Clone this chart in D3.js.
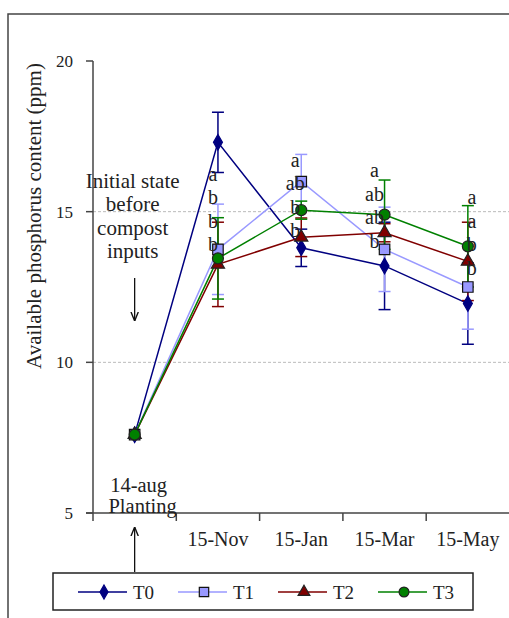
<!DOCTYPE html>
<html>
<head>
<meta charset="utf-8">
<script src="https://cdn.jsdelivr.net/npm/d3@7"></script>
<style>
  body { margin: 0; background: white; }
  text { font-family: "Liberation Serif", serif; }
</style>
</head>
<body>
<div id="container"></div>
<script>
/* CONSTANTS AND GLOBALS */
const width = 509;
const height = 618;

/* DATA */
const dates = ["14-aug", "15-Nov", "15-Jan", "15-Mar", "15-May"];
const seriesNames = ["T0", "T1", "T2", "T3"];
const t0 = [7.6, 17.3, 13.8, 13.2, 11.95];
const t1 = [7.6, 13.75, 16.0, 13.75, 12.5];
const t2 = [7.6, 13.25, 14.15, 14.3, 13.35];
const t3 = [7.6, 13.45, 15.05, 14.9, 13.85];
const t0Err = [0, 1.0, 0.62, 1.45, 1.35];
const t1Err = [0, 1.5, 0.9, 1.4, 1.4];
const t2Err = [0, 1.4, 0.64, 0.3, 1.3];
const t3Err = [0, 1.35, 0.3, 1.15, 1.35];
// significance letters per date, top to bottom
const letters = [
  [],
  ["a", "b", "b", "b"],
  ["a", "ab", "b", "b"],
  ["a", "ab", "ab", "b"],
  ["a", "a", "b", "b"]
];
const yTicks = [5, 10, 15, 20];
const gridValues = [10, 15];

/* ANNOTATION LAYOUT */
const letterTop = [null, 16.2, 16.65, 16.3, 15.42]; // value of top letter
const letterDx = [0, -5, -6, -10, 4];

const series = [
  { name: "T0", values: t0, err: t0Err, color: "#000080", fill: "#000080", stroke: "#000080", symbol: d3.symbolDiamond, size: 70 },
  { name: "T1", values: t1, err: t1Err, color: "#9999ff", fill: "#9999ff", stroke: "#111", symbol: d3.symbolSquare, size: 110 },
  { name: "T2", values: t2, err: t2Err, color: "#800000", fill: "#800000", stroke: "#222", symbol: d3.symbolTriangle, size: 75 },
  { name: "T3", values: t3, err: t3Err, color: "#008000", fill: "#008000", stroke: "#222", symbol: d3.symbolCircle, size: 95 }
];

const svg = d3.select("#container")
  .append("svg")
  .attr("width", width)
  .attr("height", height)
  .style("background-color", "white");

// outer frame (cut by the window on right/bottom)
svg.append("rect")
  .attr("x", 8).attr("y", 14)
  .attr("width", 540).attr("height", 640)
  .attr("fill", "none").attr("stroke", "#444").attr("stroke-width", 1.5);

/* SCALES */
const xScale = d3.scaleBand()
  .domain(dates)
  .range([93, 509.5])
  .padding(0);

const yScale = d3.scaleLinear()
  .domain([5, 20])
  .range([513, 61]);

const cx = d => xScale(d) + xScale.bandwidth() / 2;

/* GRID */
svg.selectAll(".grid")
  .data(gridValues)
  .join("line")
  .attr("class", "grid")
  .attr("x1", 93).attr("x2", width)
  .attr("y1", d => yScale(d)).attr("y2", d => yScale(d))
  .attr("stroke", "#bbb")
  .attr("stroke-dasharray", "3,2");

/* AXES */
const axisColor = "#444";
svg.append("line")
  .attr("x1", 93).attr("x2", 93)
  .attr("y1", yScale(20)).attr("y2", yScale(5))
  .attr("stroke", axisColor).attr("stroke-width", 1.5);
svg.selectAll(".ytick")
  .data(yTicks)
  .join("line")
  .attr("x1", 86).attr("x2", 93)
  .attr("y1", d => yScale(d)).attr("y2", d => yScale(d))
  .attr("stroke", axisColor).attr("stroke-width", 1.5);
svg.selectAll(".ylab")
  .data(yTicks)
  .join("text")
  .attr("x", 73)
  .attr("y", d => yScale(d))
  .attr("dy", "0.36em")
  .attr("text-anchor", "end")
  .attr("font-family", "Liberation Sans, sans-serif")
  .attr("font-size", 17)
  .attr("fill", "#222")
  .text(d => d);

svg.append("line")
  .attr("x1", 86).attr("x2", width)
  .attr("y1", yScale(5)).attr("y2", yScale(5))
  .attr("stroke", axisColor).attr("stroke-width", 1.5);
const boundaries = dates.map(d => xScale(d));
svg.selectAll(".xtick")
  .data(boundaries)
  .join("line")
  .attr("x1", d => d).attr("x2", d => d)
  .attr("y1", yScale(5)).attr("y2", yScale(5) + 8)
  .attr("stroke", axisColor).attr("stroke-width", 1.5);
svg.selectAll(".xlab")
  .data(dates.slice(1))
  .join("text")
  .attr("x", d => cx(d))
  .attr("y", 546)
  .attr("text-anchor", "middle")
  .attr("font-size", 20)
  .attr("fill", "#222")
  .text(d => d);

// y axis title
svg.append("text")
  .attr("transform", "translate(41,216) rotate(-90)")
  .attr("text-anchor", "middle")
  .attr("font-size", 21)
  .attr("fill", "#222")
  .text("Available phosphorus content (ppm)");

/* SERIES */
const line = d3.line()
  .x((d, i) => cx(dates[i]))
  .y(d => yScale(d));

series.forEach(s => {
  svg.append("path")
    .datum(s.values)
    .attr("d", line)
    .attr("fill", "none")
    .attr("stroke", s.color)
    .attr("stroke-width", 1.5);
});

series.forEach(s => {
  const g = svg.append("g");
  const pts = s.values.map((v, i) => ({ v, e: s.err[i], d: dates[i] })).filter(p => p.e > 0);
  g.selectAll(".eb")
    .data(pts)
    .join("line")
    .attr("x1", p => cx(p.d)).attr("x2", p => cx(p.d))
    .attr("y1", p => yScale(p.v + p.e)).attr("y2", p => yScale(p.v - p.e))
    .attr("stroke", s.color).attr("stroke-width", 1.5);
  ["top", "bot"].forEach(k => {
    g.selectAll(".cap" + k)
      .data(pts)
      .join("line")
      .attr("x1", p => cx(p.d) - 6).attr("x2", p => cx(p.d) + 6)
      .attr("y1", p => yScale(k === "top" ? p.v + p.e : p.v - p.e))
      .attr("y2", p => yScale(k === "top" ? p.v + p.e : p.v - p.e))
      .attr("stroke", s.color).attr("stroke-width", 1.5);
  });
});

series.forEach(s => {
  svg.selectAll(".m" + s.name)
    .data(s.values)
    .join("path")
    .attr("transform", (d, i) => `translate(${cx(dates[i])},${yScale(d)})`)
    .attr("d", d3.symbol().type(s.symbol).size(s.size))
    .attr("fill", s.fill)
    .attr("stroke", s.stroke)
    .attr("stroke-width", 1.2);
});

/* LETTERS */
letters.forEach((ls, i) => {
  if (!ls.length) return;
  svg.selectAll(".let" + i)
    .data(ls)
    .join("text")
    .attr("x", cx(dates[i]) + letterDx[i])
    .attr("y", (d, j) => yScale(letterTop[i]) + j * 23.5)
    .attr("dy", "0.25em")
    .attr("text-anchor", "middle")
    .attr("font-size", 20)
    .attr("fill", "#222")
    .text(d => d);
});

/* ANNOTATIONS */
const noteX = cx(dates[0]) - 2;
svg.append("text")
  .attr("text-anchor", "middle")
  .attr("font-size", 21)
  .attr("fill", "#222")
  .selectAll("tspan")
  .data(["Initial state", "before", "compost", "inputs"])
  .join("tspan")
  .attr("x", noteX)
  .attr("y", (d, i) => 188 + i * 23.3)
  .text(d => d);

svg.append("defs").append("marker")
  .attr("id", "arrow")
  .attr("viewBox", "0 0 10 10")
  .attr("refX", 10).attr("refY", 5)
  .attr("markerWidth", 7).attr("markerHeight", 7)
  .attr("orient", "auto-start-reverse")
  .append("path")
  .attr("d", "M0,1 L10,5 L0,9")
  .attr("fill", "none")
  .attr("stroke", "#111")
  .attr("stroke-width", 1.5);

svg.append("line")
  .attr("x1", cx(dates[0])).attr("x2", cx(dates[0]))
  .attr("y1", 278).attr("y2", 321)
  .attr("stroke", "#111").attr("stroke-width", 1.3)
  .attr("marker-end", "url(#arrow)");

svg.append("text")
  .attr("text-anchor", "middle")
  .attr("font-size", 20.5)
  .attr("fill", "#222")
  .selectAll("tspan")
  .data(["14-aug", "Planting"])
  .join("tspan")
  .attr("x", (d, i) => cx(dates[0]) + 4 + i * 4)
  .attr("y", (d, i) => 492 + i * 21)
  .text(d => d);

svg.append("line")
  .attr("x1", cx(dates[0])).attr("x2", cx(dates[0]))
  .attr("y1", 572).attr("y2", 527)
  .attr("stroke", "#111").attr("stroke-width", 1.3)
  .attr("marker-end", "url(#arrow)");

/* LEGEND */
const legend = svg.append("g");
legend.append("rect")
  .attr("x", 53).attr("y", 573)
  .attr("width", 420).attr("height", 37)
  .attr("fill", "white")
  .attr("stroke", "#222").attr("stroke-width", 1.5);

const legItem = legend.selectAll(".leg")
  .data(series)
  .join("g")
  .attr("transform", (d, i) => `translate(${78 + i * 100},592)`);
legItem.append("line")
  .attr("x1", 0).attr("x2", 49)
  .attr("stroke", d => d.color).attr("stroke-width", 1.5);
legItem.append("path")
  .attr("transform", "translate(26,0)")
  .attr("d", d => d3.symbol().type(d.symbol).size(d.size * 0.8)())
  .attr("fill", d => d.fill)
  .attr("stroke", d => d.stroke)
  .attr("stroke-width", 1.2);
legItem.append("text")
  .attr("x", 55)
  .attr("dy", "0.35em")
  .attr("font-size", 19)
  .attr("fill", "#222")
  .text(d => d.name);
</script>
</body>
</html>
